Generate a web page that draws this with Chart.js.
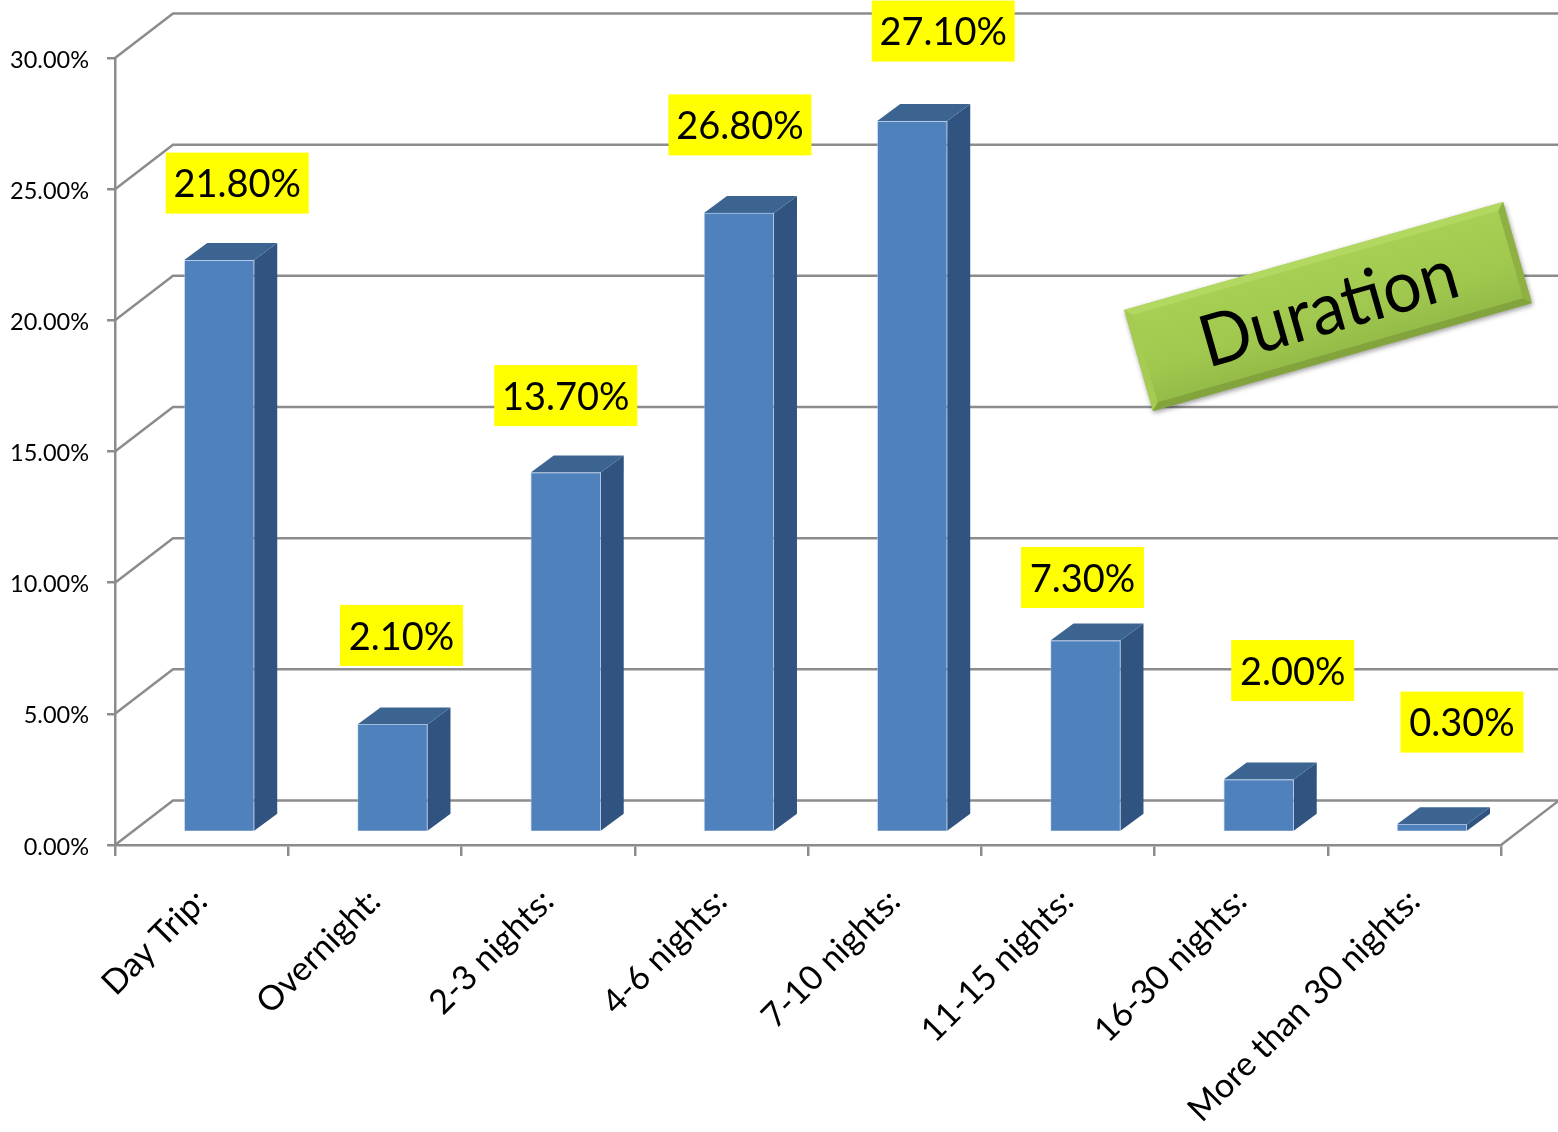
<!DOCTYPE html>
<html>
<head>
<meta charset="utf-8">
<title>Duration</title>
<script src="https://cdn.jsdelivr.net/npm/chart.js@4"></script>
<style>
  html, body { margin: 0; padding: 0; background: #fff; }
  #wrap { width: 1558px; height: 1132px; }
</style>
</head>
<body>
<div id="wrap"><canvas id="durationChart" width="1558" height="1132"></canvas></div>
<script>
// data
const categories = ['Day Trip:', 'Overnight:', '2-3 nights:', '4-6 nights:', '7-10 nights:', '11-15 nights:', '16-30 nights:', 'More than 30 nights:'];
const barValues = [21.8, 4.1, 13.7, 23.6, 27.1, 7.3, 2.0, 0.3];
// the printed labels do not always agree with the bars (Overnight, 4-6 nights)
const labelTexts = ['21.80%', '2.10%', '13.70%', '26.80%', '27.10%', '7.30%', '2.00%', '0.30%'];
const chartTitle = 'Duration';

// hand placed label boxes, centre relative to the top of the front face
const labelDx = [18, 9, 0, 1, 31, -3, 34, 30];
const labelDy = [-77, -89, -77, -88, -90, -63, -109, -102];

// fake 3d
const LINE = '#8c8c8c';
const FONT = 'Lato, Carlito, sans-serif';
const front = { x: 17.6, y: -13 };   // bars stand this far behind the axis
const depth = { x: 23, y: -17 };     // bar depth
const wall = { x: 58, y: -44.5 };    // back wall

const wallPlugin = {
  id: 'wall',
  beforeDraw(chart) {
    // calibri sits lower than lato, nudge the value labels down a bit
    const y = chart.scales.y;
    if (!y.nudged) {
      const draw = y.drawLabels;
      y.drawLabels = function (area) {
        chart.ctx.save();
        chart.ctx.translate(0, 2);
        draw.call(this, area);
        chart.ctx.restore();
      };
      y.nudged = true;
    }
  },
  beforeDatasetsDraw(chart) {
    const { ctx, scales: { y }, chartArea: a } = chart;
    ctx.save();
    ctx.strokeStyle = LINE;
    ctx.lineWidth = 2.5;
    ctx.lineJoin = 'miter';
    y.ticks.forEach(t => {
      const py = y.getPixelForValue(t.value);
      ctx.beginPath();
      ctx.moveTo(a.left, py);
      ctx.lineTo(a.left + wall.x, py + wall.y);
      ctx.lineTo(chart.width, py + wall.y);
      ctx.stroke();
    });
    // right edge of the floor
    ctx.beginPath();
    ctx.moveTo(a.right, a.bottom);
    ctx.lineTo(a.right + wall.x, a.bottom + wall.y);
    ctx.stroke();
    ctx.restore();
  }
};

// bars are drawn by chart.js, just shifted; side and top get added here
const barPlugin = {
  id: 'bars3d',
  beforeDatasetsDraw(chart) {
    const { ctx } = chart;
    ctx.save();
    ctx.translate(front.x, front.y);
    chart.getDatasetMeta(0).data.forEach(bar => {
      const l = bar.x - bar.width / 2, r = bar.x + bar.width / 2;
      ctx.fillStyle = '#315380';
      ctx.beginPath();
      ctx.moveTo(r, bar.y);
      ctx.lineTo(r + depth.x, bar.y + depth.y);
      ctx.lineTo(r + depth.x, bar.base + depth.y);
      ctx.lineTo(r, bar.base);
      ctx.closePath();
      ctx.fill();
      ctx.fillStyle = '#3c6491';
      ctx.beginPath();
      ctx.moveTo(l, bar.y);
      ctx.lineTo(l + depth.x, bar.y + depth.y);
      ctx.lineTo(r + depth.x, bar.y + depth.y);
      ctx.lineTo(r, bar.y);
      ctx.closePath();
      ctx.fill();
    });
  },
  afterDatasetsDraw(chart) {
    chart.ctx.restore();
  }
};

const labelPlugin = {
  id: 'boxLabels',
  afterDraw(chart) {
    const { ctx } = chart;
    ctx.save();
    ctx.textAlign = 'center';
    ctx.textBaseline = 'middle';
    ctx.font = '38px ' + FONT;
    chart.getDatasetMeta(0).data.forEach((bar, i) => {
      const cx = bar.x + front.x + labelDx[i];
      const cy = bar.y + front.y + labelDy[i];
      const w = labelTexts[i].length === 6 ? 143 : 123;
      ctx.fillStyle = '#ffff00';
      ctx.fillRect(cx - w / 2, cy - 30.5, w, 61);
      ctx.fillStyle = '#000';
      ctx.fillText(labelTexts[i], cx, cy + 2);
    });
    ctx.restore();
  }
};

const titlePlugin = {
  id: 'durationBox',
  afterDraw(chart) {
    const { ctx } = chart;
    const w = 394, h = 105, b = 7;
    ctx.save();
    ctx.translate(1328, 306.5);
    ctx.rotate(-15.9 * Math.PI / 180);
    const grad = ctx.createLinearGradient(0, -h / 2, 0, h / 2);
    grad.addColorStop(0, '#a8d055');
    grad.addColorStop(0.6, '#a0c84e');
    grad.addColorStop(1, '#93b947');
    ctx.save();
    ctx.shadowColor = 'rgba(0,0,0,0.4)';
    ctx.shadowBlur = 5;
    ctx.shadowOffsetX = 1;
    ctx.shadowOffsetY = 2;
    ctx.fillStyle = grad;
    ctx.fillRect(-w / 2, -h / 2, w, h);
    ctx.restore();
    const x0 = -w / 2, x1 = w / 2, y0 = -h / 2, y1 = h / 2;
    const bevel = (pts, color) => {
      ctx.fillStyle = color;
      ctx.beginPath();
      pts.forEach((p, i) => i ? ctx.lineTo(p[0], p[1]) : ctx.moveTo(p[0], p[1]));
      ctx.closePath();
      ctx.fill();
    };
    bevel([[x0, y0], [x1, y0], [x1 - b, y0 + b], [x0 + b, y0 + b]], '#b3d862');
    bevel([[x0, y0], [x0 + b, y0 + b], [x0 + b, y1 - b], [x0, y1]], '#a5cb53');
    bevel([[x1, y0], [x1 - b, y0 + b], [x1 - b, y1 - b], [x1, y1]], '#8fb043');
    bevel([[x0, y1], [x0 + b, y1 - b], [x1 - b, y1 - b], [x1, y1]], '#83a33c');
    ctx.fillStyle = '#000';
    ctx.font = '72px ' + FONT;
    ctx.textAlign = 'center';
    ctx.textBaseline = 'middle';
    ctx.scale(0.945, 1);
    ctx.fillText(chartTitle, 0, 3);
    ctx.restore();
  }
};

new Chart(document.getElementById('durationChart'), {
  type: 'bar',
  data: {
    labels: categories,
    datasets: [{
      data: barValues,
      backgroundColor: '#4f81bd',
      borderColor: 'rgba(170,200,240,0.5)',
      borderWidth: 1,
      barThickness: 70,
      clip: false
    }]
  },
  options: {
    responsive: false,
    animation: false,
    layout: { padding: { top: 58, right: 57, left: 0, bottom: 0 } },
    plugins: { legend: { display: false }, tooltip: { enabled: false } },
    scales: {
      x: {
        afterFit: s => { s.height = 287; },
        grid: { drawOnChartArea: false, color: LINE, lineWidth: 2.5, tickLength: 11, offset: true },
        border: { color: LINE, width: 2.5 },
        ticks: { color: '#000', font: { family: FONT, size: 34 }, minRotation: 45, maxRotation: 45, padding: 25, autoSkip: false }
      },
      y: {
        min: 0,
        max: 30,
        afterFit: s => { s.width = 115; },
        grid: { drawOnChartArea: false, color: LINE, lineWidth: 2.5, tickLength: 8 },
        border: { color: LINE, width: 2.5 },
        ticks: {
          stepSize: 5,
          color: '#000',
          font: { family: FONT, size: 23.5 },
          padding: 18,
          callback: v => v.toFixed(2) + '%'
        }
      }
    }
  },
  plugins: [wallPlugin, barPlugin, labelPlugin, titlePlugin]
});
</script>
</body>
</html>
